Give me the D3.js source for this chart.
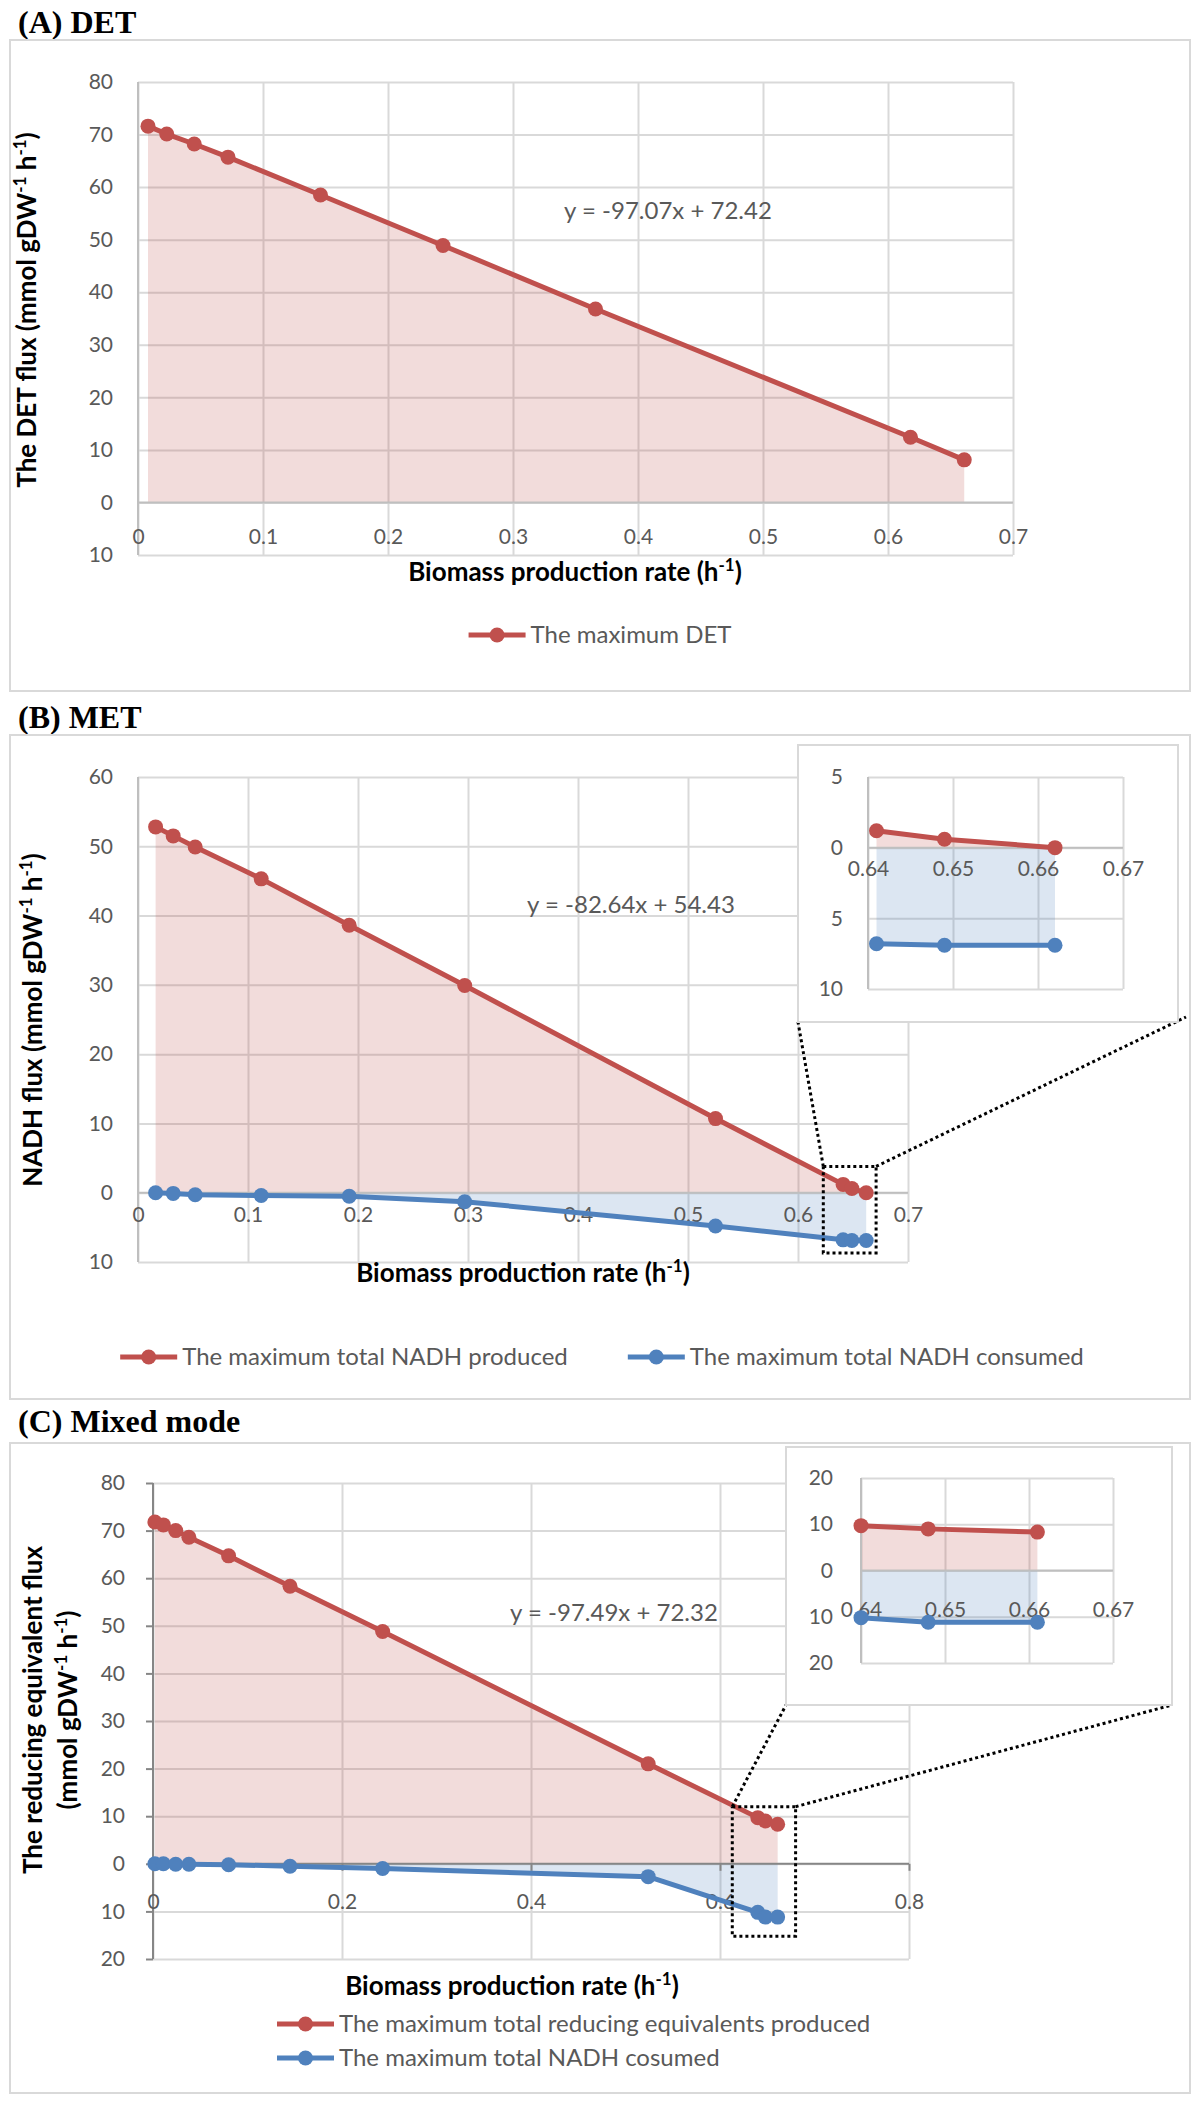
<!DOCTYPE html>
<html>
<head>
<meta charset="utf-8">
<script src="https://cdn.jsdelivr.net/npm/d3@7"></script>
<style>
  body { margin: 0; background: #fff; }
  svg { display: block; }
</style>
</head>
<body>
<svg></svg>
<script>
// (A) DET
const detRate = [0.008, 0.023, 0.045, 0.072, 0.146, 0.244, 0.366, 0.618, 0.661];
const detFlux = [71.6, 70.1, 68.2, 65.7, 58.5, 48.9, 36.8, 12.4, 8.1];

// (B) MET
const metRate = [0.016, 0.032, 0.052, 0.112, 0.192, 0.297, 0.525, 0.641, 0.649, 0.662];
const metProduced = [52.8, 51.5, 49.9, 45.3, 38.6, 29.9, 10.7, 1.2, 0.6, 0.0];
const metConsumed = [0.0, -0.1, -0.3, -0.4, -0.5, -1.3, -4.8, -6.8, -6.9, -6.9];

// (C) Mixed mode
const mixRate = [0.002, 0.011, 0.024, 0.038, 0.080, 0.145, 0.243, 0.524, 0.640, 0.648, 0.661];
const mixProduced = [71.8, 71.2, 70.0, 68.6, 64.7, 58.3, 48.8, 21.0, 9.7, 9.0, 8.3];
const mixConsumed = [0.0, 0.0, -0.1, -0.1, -0.2, -0.5, -1.0, -2.7, -10.2, -11.2, -11.2];

// axis ticks
const detTicksX = [0, 0.1, 0.2, 0.3, 0.4, 0.5, 0.6, 0.7];
const detTicksY = [-10, 0, 10, 20, 30, 40, 50, 60, 70, 80];
const metTicksX = [0, 0.1, 0.2, 0.3, 0.4, 0.5, 0.6, 0.7];
const metTicksY = [-10, 0, 10, 20, 30, 40, 50, 60];
const metZoomTicksX = [0.64, 0.65, 0.66, 0.67];
const metZoomTicksY = [-10, -5, 0, 5];
const mixTicksX = [0, 0.2, 0.4, 0.6, 0.8];
const mixTicksY = [-20, -10, 0, 10, 20, 30, 40, 50, 60, 70, 80];
const mixZoomTicksX = [0.64, 0.65, 0.66, 0.67];
const mixZoomTicksY = [-20, -10, 0, 10, 20];

// texts
const fits = ['y = -97.07x + 72.42', 'y = -82.64x + 54.43', 'y = -97.49x + 72.32'];
const legendA = ['The maximum DET'];
const legendB = ['The maximum total NADH produced', 'The maximum total NADH consumed'];
const legendC = ['The maximum total reducing equivalents produced', 'The maximum total NADH cosumed'];

const RED = '#c0504d';
const BLUE = '#4f81bd';
const GRID = '#d9d9d9';
const LABEL = '#595959';
const FONT = 'Lato, sans-serif';

const svg = d3.select('svg').attr('width', 1200).attr('height', 2105);

// text with ^{..} superscripts
const rich = (sel, str, size) => {
  let up = false;
  for (const p of str.split(/(\^\{[^}]*\})/)) {
    if (!p) continue;
    const m = p.match(/^\^\{(.*)\}$/);
    if (m) {
      sel.append('tspan').attr('font-size', size * 0.65).attr('dy', -size * 0.4).text(m[1]);
      up = true;
    } else {
      sel.append('tspan').attr('dy', up ? size * 0.4 : 0).text(p);
      up = false;
    }
  }
  return sel;
};

const frame = (x0, y0, x1, y1) => {
  svg.append('rect')
    .attr('x', x0).attr('y', y0)
    .attr('width', x1 - x0).attr('height', y1 - y0)
    .attr('fill', '#fff')
    .attr('stroke', GRID)
    .attr('stroke-width', 2);
};

const title = (x, y, str) => {
  svg.append('text')
    .attr('x', x).attr('y', y)
    .attr('font-family', '"Liberation Serif", "Times New Roman", serif')
    .attr('font-weight', 'bold')
    .attr('font-size', 32)
    .text(str);
};

const plot = (o) => {
  const x = d3.scaleLinear().domain(o.xDomain).range([o.left, o.right]);
  const y = d3.scaleLinear().domain(o.yDomain).range([o.bottom, o.top]);
  const w = o.right - o.left;
  const h = o.bottom - o.top;
  const g = svg.append('g');

  // gridlines
  g.append('g')
    .attr('transform', `translate(${o.left},0)`)
    .call(d3.axisLeft(y).tickValues(o.yTicks).tickSize(-w).tickFormat(''))
    .call((a) => a.select('.domain').remove())
    .selectAll('line').attr('stroke', GRID).attr('stroke-width', 2);
  g.append('g')
    .attr('transform', `translate(0,${o.bottom})`)
    .call(d3.axisBottom(x).tickValues(o.xTicks).tickSize(-h).tickFormat(''))
    .call((a) => a.select('.domain').remove())
    .selectAll('line').attr('stroke', GRID).attr('stroke-width', 2);

  // filled areas between each series and zero
  for (const s of o.series) {
    const pts = o.xs.map((v, i) => [v, s.values[i]]);
    g.append('path')
      .datum(pts)
      .attr('d', d3.area().x((d) => x(d[0])).y0(y(0)).y1((d) => y(d[1])))
      .attr('fill', s.color)
      .attr('fill-opacity', 0.2);
  }

  // axis lines
  g.append('line')
    .attr('x1', o.left).attr('x2', o.left)
    .attr('y1', o.top).attr('y2', o.bottom)
    .attr('stroke', o.axisColor).attr('stroke-width', 2);
  g.append('line')
    .attr('x1', o.left).attr('x2', o.right)
    .attr('y1', y(0)).attr('y2', y(0))
    .attr('stroke', o.axisColor).attr('stroke-width', 2);

  // y tick labels (negative values shown without sign)
  const ya = g.append('g')
    .attr('transform', `translate(${o.left},0)`)
    .call(d3.axisLeft(y).tickValues(o.yTicks).tickSize(o.tick).tickPadding(o.yPad).tickFormat((d) => Math.abs(d)));
  ya.select('.domain').remove();
  ya.selectAll('line').attr('stroke', o.axisColor).attr('stroke-width', 2);
  ya.selectAll('text').attr('fill', LABEL).attr('font-size', o.font).attr('font-family', FONT);

  // x tick labels next to the zero line
  const xa = g.append('g')
    .attr('transform', `translate(0,${y(0)})`)
    .call(d3.axisBottom(x).tickValues(o.xTicks).tickSize(o.tick).tickPadding(o.xPad).tickFormat((d) => String(d)));
  xa.select('.domain').remove();
  xa.selectAll('line').attr('stroke', o.axisColor).attr('stroke-width', 2);
  xa.selectAll('text').attr('fill', LABEL).attr('font-size', o.font).attr('font-family', FONT);

  // series lines and markers
  for (const s of o.series) {
    const pts = o.xs.map((v, i) => [v, s.values[i]]);
    g.append('path')
      .datum(pts)
      .attr('d', d3.line().x((d) => x(d[0])).y((d) => y(d[1])))
      .attr('fill', 'none')
      .attr('stroke', s.color)
      .attr('stroke-width', 5)
      .attr('stroke-linejoin', 'round');
    g.selectAll(null)
      .data(pts)
      .join('circle')
      .attr('cx', (d) => x(d[0]))
      .attr('cy', (d) => y(d[1]))
      .attr('r', 7.5)
      .attr('fill', s.color);
  }
  return { x, y };
};

const axisTitleX = (x, y, str) => {
  rich(svg.append('text')
    .attr('x', x).attr('y', y).attr('dy', '0.35em')
    .attr('text-anchor', 'middle')
    .attr('font-family', FONT).attr('font-weight', 'bold').attr('font-size', 26), str, 26);
};

const axisTitleY = (x, y, str) => {
  rich(svg.append('text')
    .attr('transform', `translate(${x},${y}) rotate(-90)`)
    .attr('dy', '0.35em')
    .attr('text-anchor', 'middle')
    .attr('font-family', FONT).attr('font-weight', 'bold').attr('font-size', 26), str, 26);
};

const equation = (x, y, str) => {
  svg.append('text')
    .attr('x', x).attr('y', y).attr('dy', '0.35em')
    .attr('text-anchor', 'middle')
    .attr('fill', LABEL)
    .attr('font-family', FONT).attr('font-size', 24)
    .text(str);
};

const legendItem = (g, x, y, color, label) => {
  g.append('line')
    .attr('x1', x).attr('x2', x + 57).attr('y1', y).attr('y2', y)
    .attr('stroke', color).attr('stroke-width', 5);
  g.append('circle').attr('cx', x + 28.5).attr('cy', y).attr('r', 7.5).attr('fill', color);
  const t = g.append('text')
    .attr('x', x + 62).attr('y', y).attr('dy', '0.35em')
    .attr('fill', LABEL)
    .attr('font-family', FONT).attr('font-size', 24)
    .text(label);
  return x + 62 + t.node().getComputedTextLength();
};

// row legend centred on cx
const legendRow = (cx, y, labels, colors) => {
  const g = svg.append('g');
  let x = 0;
  labels.forEach((l, i) => { x = legendItem(g, x, y, colors[i], l) + 60; });
  const width = x - 60;
  g.attr('transform', `translate(${cx - width / 2},0)`);
};

const dotted = (pts) => {
  svg.append('path')
    .attr('d', d3.line()(pts))
    .attr('fill', 'none')
    .attr('stroke', '#000')
    .attr('stroke-width', 3)
    .attr('stroke-dasharray', '3 3');
};

// ---------- (A) DET ----------
title(18, 33, '(A) DET');
frame(10, 40, 1190, 691);
plot({
  xDomain: [0, 0.7], yDomain: [-10, 80],
  left: 138, right: 1013, top: 82, bottom: 555,
  xTicks: detTicksX, yTicks: detTicksY,
  xs: detRate,
  series: [{ values: detFlux, color: RED }],
  axisColor: '#bfbfbf', tick: 0, yPad: 25, xPad: 27, font: 21,
});
equation(668, 211, fits[0]);
axisTitleX(575, 581, 'Biomass production rate (h^{-1})');
axisTitleY(36, 310, 'The DET flux  (mmol gDW^{-1} h^{-1})');
legendRow(600, 635, legendA, [RED]);

// ---------- (B) MET ----------
title(18, 728, '(B) MET');
frame(10, 735, 1190, 1399);
const b = plot({
  xDomain: [0, 0.7], yDomain: [-10, 60],
  left: 138, right: 908, top: 777, bottom: 1262,
  xTicks: metTicksX, yTicks: metTicksY,
  xs: metRate,
  series: [{ values: metProduced, color: RED }, { values: metConsumed, color: BLUE }],
  axisColor: '#bfbfbf', tick: 0, yPad: 25, xPad: 14, font: 21,
});
equation(631, 905, fits[1]);
axisTitleX(523, 1282, 'Biomass production rate (h^{-1})');
axisTitleY(42, 1020, 'NADH flux (mmol gDW^{-1} h^{-1})');
legendRow(602, 1357, legendB, [RED, BLUE]);

// zoom box and connectors
const bx0 = b.x(0.623), bx1 = b.x(0.671), by0 = b.y(3.8), by1 = b.y(-8.7);
dotted([[bx0, by0], [bx1, by0], [bx1, by1], [bx0, by1], [bx0, by0]]);
dotted([[bx0, by0], [798, 1022]]);
dotted([[bx1, by0], [1186, 1017]]);

// inset
frame(798, 745, 1178, 1022);
plot({
  xDomain: [0.64, 0.67], yDomain: [-10, 5],
  left: 868, right: 1123, top: 777, bottom: 989,
  xTicks: metZoomTicksX, yTicks: metZoomTicksY,
  xs: metRate.slice(-3),
  series: [{ values: metProduced.slice(-3), color: RED }, { values: metConsumed.slice(-3), color: BLUE }],
  axisColor: '#bfbfbf', tick: 0, yPad: 25, xPad: 13, font: 21,
});

// ---------- (C) Mixed mode ----------
title(18, 1432, '(C) Mixed mode');
frame(10, 1443, 1190, 2093);
const c = plot({
  xDomain: [0, 0.8], yDomain: [-20, 80],
  left: 153, right: 909, top: 1483, bottom: 1959,
  xTicks: mixTicksX, yTicks: mixTicksY,
  xs: mixRate,
  series: [{ values: mixProduced, color: RED }, { values: mixConsumed, color: BLUE }],
  axisColor: '#868686', tick: 7, yPad: 21, xPad: 23, font: 21,
});
equation(614, 1613, fits[2]);
axisTitleX(512, 1995, 'Biomass production rate (h^{-1})');
axisTitleY(42, 1710, 'The reducing equivalent flux');
axisTitleY(77, 1710, '(mmol gDW^{-1} h^{-1})');
{
  const g = svg.append('g');
  legendItem(g, 277, 2024, RED, legendC[0]);
  legendItem(g, 277, 2058, BLUE, legendC[1]);
}

const cx0 = c.x(0.613), cx1 = c.x(0.68), cy0 = c.y(12), cy1 = c.y(-15.2);
dotted([[cx0, cy0], [cx1, cy0], [cx1, cy1], [cx0, cy1], [cx0, cy0]]);
dotted([[cx0, cy0], [786, 1705]]);
dotted([[cx1, cy0], [1172, 1705]]);

frame(786, 1447, 1172, 1705);
plot({
  xDomain: [0.64, 0.67], yDomain: [-20, 20],
  left: 861, right: 1113, top: 1478, bottom: 1663,
  xTicks: mixZoomTicksX, yTicks: mixZoomTicksY,
  xs: mixRate.slice(-3),
  series: [{ values: mixProduced.slice(-3), color: RED }, { values: mixConsumed.slice(-3), color: BLUE }],
  axisColor: '#bfbfbf', tick: 0, yPad: 28, xPad: 32, font: 21,
});
</script>
</body>
</html>
